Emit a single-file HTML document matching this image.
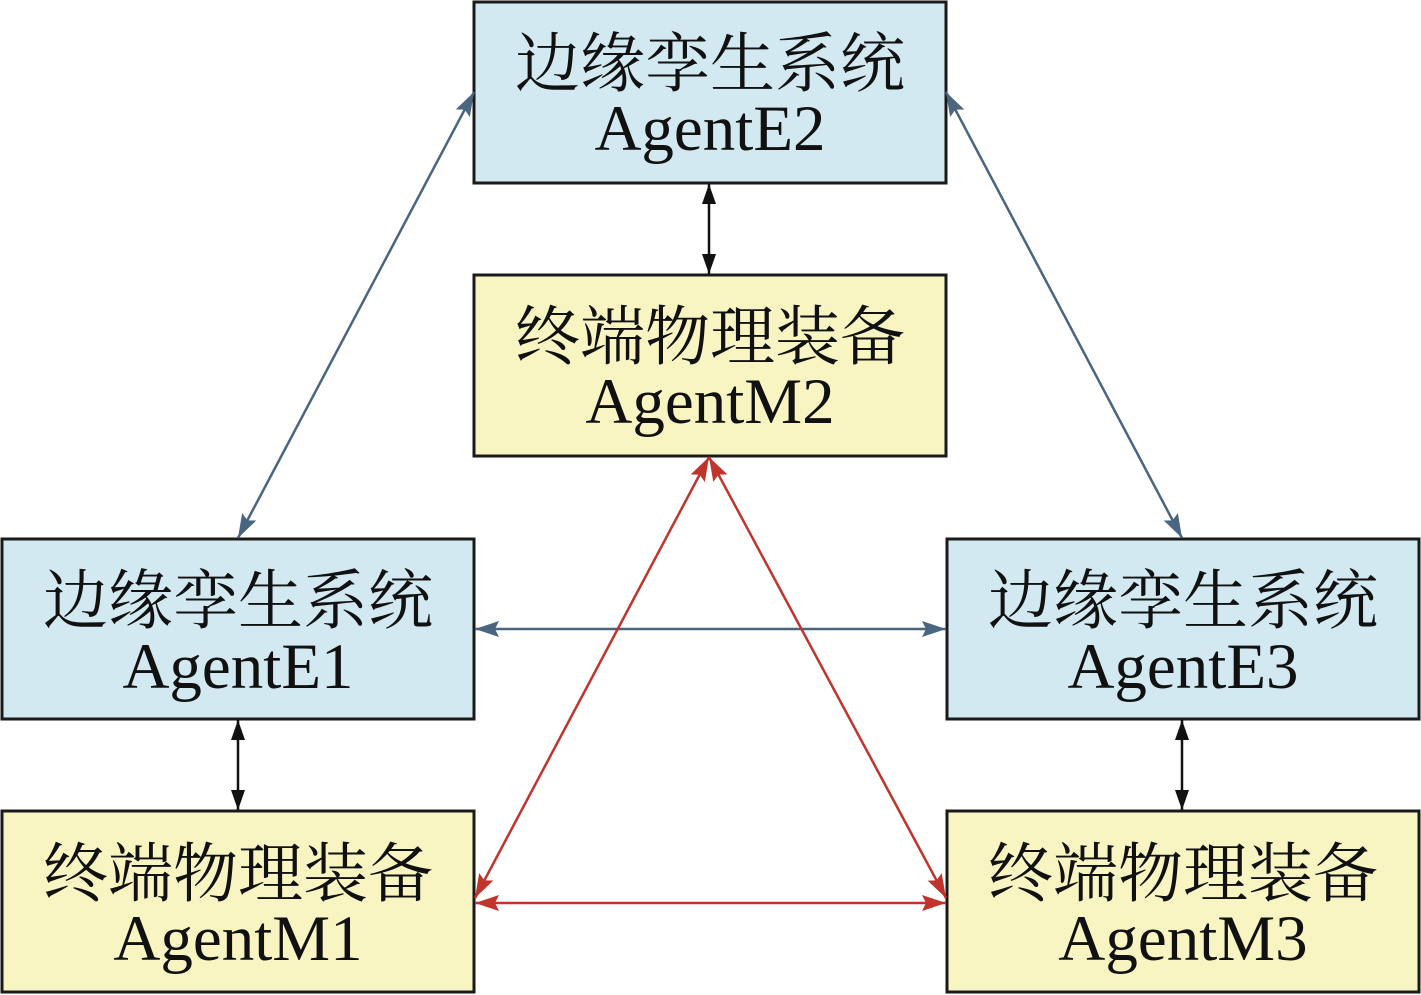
<!DOCTYPE html>
<html><head><meta charset="utf-8"><style>
html,body{margin:0;padding:0;background:#fff;}
svg{display:block}
.cn{font-family:"Liberation Serif","Noto Serif CJK SC",serif;font-size:65px;fill:#111;}
.en{font-family:"Liberation Serif",serif;font-size:65px;fill:#111;}
</style></head><body>
<svg width="1421" height="995" viewBox="0 0 1421 995" xmlns="http://www.w3.org/2000/svg">
<defs>
<marker id="ab" viewBox="0 0 24 16" refX="24" refY="8" markerWidth="24" markerHeight="16" orient="auto-start-reverse" markerUnits="userSpaceOnUse"><path d="M0,0 L24,8 L0,16 L4,8 z" fill="#4a6580"/></marker>
<marker id="ar" viewBox="0 0 24 16" refX="24" refY="8" markerWidth="24" markerHeight="16" orient="auto-start-reverse" markerUnits="userSpaceOnUse"><path d="M0,0 L24,8 L0,16 L4,8 z" fill="#c0342c"/></marker>
<marker id="ak" viewBox="0 0 20 14" refX="20" refY="7" markerWidth="20" markerHeight="14" orient="auto-start-reverse" markerUnits="userSpaceOnUse"><path d="M0,0 L20,7 L0,14 z" fill="#111"/></marker>
</defs>
<g stroke-width="3" stroke="#1a1a1a">
<rect x="474" y="2" width="472" height="181" fill="#d2e9f1"/>
<rect x="474" y="275" width="472" height="181" fill="#f8f5c2"/>
<rect x="2" y="539" width="472" height="180" fill="#d2e9f1"/>
<rect x="947" y="539" width="472" height="180" fill="#d2e9f1"/>
<rect x="2" y="811" width="472" height="181" fill="#f8f5c2"/>
<rect x="947" y="811" width="472" height="181" fill="#f8f5c2"/>
</g>
<g fill="none" stroke-width="2.5">
<line x1="474" y1="92" x2="238" y2="538" stroke="#4a6580" marker-start="url(#ab)" marker-end="url(#ab)"/>
<line x1="946" y1="92" x2="1182" y2="538" stroke="#4a6580" marker-start="url(#ab)" marker-end="url(#ab)"/>
<line x1="475" y1="629" x2="946" y2="629" stroke="#4a6580" marker-start="url(#ab)" marker-end="url(#ab)"/>
<line x1="709" y1="457" x2="475" y2="898" stroke="#c0342c" marker-start="url(#ar)" marker-end="url(#ar)"/>
<line x1="709" y1="457" x2="946" y2="898" stroke="#c0342c" marker-start="url(#ar)" marker-end="url(#ar)"/>
<line x1="475" y1="903" x2="946" y2="903" stroke="#c0342c" marker-start="url(#ar)" marker-end="url(#ar)"/>
<line x1="709" y1="184" x2="709" y2="274" stroke="#111" marker-start="url(#ak)" marker-end="url(#ak)"/>
<line x1="238" y1="720" x2="238" y2="810" stroke="#111" marker-start="url(#ak)" marker-end="url(#ak)"/>
<line x1="1182" y1="720" x2="1182" y2="810" stroke="#111" marker-start="url(#ak)" marker-end="url(#ak)"/>
</g>
<g text-anchor="middle">
<text class="cn" x="710" y="86">边缘孪生系统</text><text class="en" x="710" y="150">AgentE2</text>
<text class="cn" x="710" y="359">终端物理装备</text><text class="en" x="710" y="423">AgentM2</text>
<text class="cn" x="238" y="623">边缘孪生系统</text><text class="en" x="238" y="688">AgentE1</text>
<text class="cn" x="1183" y="623">边缘孪生系统</text><text class="en" x="1183" y="688">AgentE3</text>
<text class="cn" x="238" y="896">终端物理装备</text><text class="en" x="238" y="960">AgentM1</text>
<text class="cn" x="1183" y="896">终端物理装备</text><text class="en" x="1183" y="960">AgentM3</text>
</g>
</svg>
</body></html>
